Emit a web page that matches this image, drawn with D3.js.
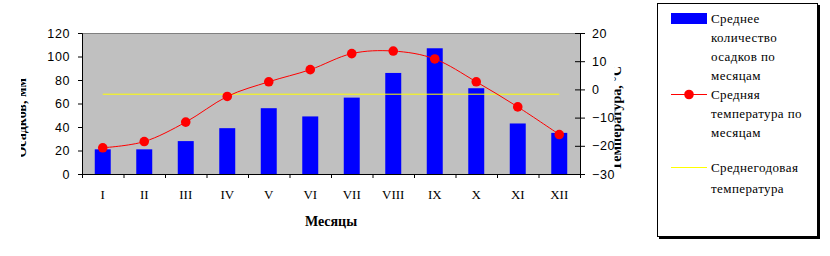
<!DOCTYPE html>
<html>
<head>
<meta charset="utf-8">
<script src="https://cdn.jsdelivr.net/npm/d3@7"></script>
<style>
  body { margin: 0; background: #fff; }
  svg { display: block; }
</style>
</head>
<body>
<div id="chart"></div>
<script>
// months and values
const months = ['I', 'II', 'III', 'IV', 'V', 'VI', 'VII', 'VIII', 'IX', 'X', 'XI', 'XII']
const precip = [21, 21, 28, 39, 56, 49, 65, 86, 107, 73, 43, 35]
const temps = [-20.7, -18.5, -11.6, -2.5, 2.7, 7, 12.7, 13.6, 10.8, 2.7, -6.2, -16]
const yearTemp = -1.7
const leftTicks = [0, 20, 40, 60, 80, 100, 120]
const rightTicks = [-30, -20, -10, 0, 10, 20]

const w = 830
const h = 256
const plot = { left: 82, right: 580, top: 33, bottom: 174 }

const svg = d3.select('#chart')
    .append('svg')
    .attr('width', w)
    .attr('height', h)

// scales
const xScale = d3.scaleBand()
    .domain(months)
    .range([plot.left, plot.right])
const cx = m => xScale(m) + xScale.bandwidth() / 2

const yLeft = d3.scaleLinear()
    .domain([0, 120])
    .range([plot.bottom, plot.top])

const yRight = d3.scaleLinear()
    .domain([-30, 20])
    .range([plot.bottom, plot.top])

// plot background
svg.append('rect')
    .attr('x', plot.left)
    .attr('y', plot.top)
    .attr('width', plot.right - plot.left)
    .attr('height', plot.bottom - plot.top)
    .attr('fill', '#c0c0c0')

svg.append('line')
    .attr('x1', plot.left).attr('x2', plot.right)
    .attr('y1', plot.top + 0.5).attr('y2', plot.top + 0.5)
    .attr('stroke', '#808080')

// bars
const barW = xScale.bandwidth() * 0.385
svg.selectAll('rect.bar')
    .data(precip)
    .enter()
    .append('rect')
    .attr('class', 'bar')
    .attr('x', (d, i) => cx(months[i]) - barW / 2)
    .attr('y', d => yLeft(d))
    .attr('width', barW)
    .attr('height', d => plot.bottom - yLeft(d))
    .attr('fill', '#0000ff')

// yearly mean line
svg.append('line')
    .attr('x1', cx(months[0]))
    .attr('x2', cx(months[months.length - 1]))
    .attr('y1', yRight(yearTemp))
    .attr('y2', yRight(yearTemp))
    .attr('stroke', '#ffff00')
    .attr('stroke-width', 1)

// temperature line
const line = d3.line()
    .x((d, i) => cx(months[i]))
    .y(d => yRight(d))
    .curve(d3.curveCatmullRom.alpha(0))

svg.append('path')
    .datum(temps)
    .attr('d', line)
    .attr('fill', 'none')
    .attr('stroke', '#ff0000')
    .attr('stroke-width', 1)

svg.selectAll('circle.pt')
    .data(temps)
    .enter()
    .append('circle')
    .attr('class', 'pt')
    .attr('cx', (d, i) => cx(months[i]))
    .attr('cy', d => yRight(d))
    .attr('r', 4.8)
    .attr('fill', '#ff0000')

// axes
const xAxis = d3.axisBottom(xScale).tickSize(0).tickPadding(0).tickFormat('')
const gx = svg.append('g')
    .attr('transform', 'translate(0,' + plot.bottom + ')')
    .call(xAxis)
gx.select('.domain').attr('stroke', '#000')
// tick marks at band edges
gx.selectAll('line.edge')
    .data(months.concat(['end']))
    .enter()
    .append('line')
    .attr('x1', (d, i) => i < months.length ? xScale(d) + 0.5 : plot.right + 0.5)
    .attr('x2', (d, i) => i < months.length ? xScale(d) + 0.5 : plot.right + 0.5)
    .attr('y1', 0)
    .attr('y2', 4)
    .attr('stroke', '#000')

svg.selectAll('text.month')
    .data(months)
    .enter()
    .append('text')
    .attr('class', 'month')
    .attr('x', d => cx(d))
    .attr('y', 199)
    .attr('text-anchor', 'middle')
    .attr('font-family', 'Liberation Serif, Times New Roman, serif')
    .attr('font-size', 13)
    .text(d => d)

const yAxisL = d3.axisLeft(yLeft).tickValues(leftTicks).tickSize(4).tickPadding(8)
const gl = svg.append('g')
    .attr('transform', 'translate(' + plot.left + ',0)')
    .call(yAxisL)
gl.selectAll('path, line').attr('stroke', '#000')
gl.selectAll('text')
    .attr('font-family', 'Liberation Sans, Arial, sans-serif')
    .attr('font-size', 12.5)
    .attr('letter-spacing', 0.6)
    .attr('fill', '#000')

const yAxisR = d3.axisRight(yRight).tickValues(rightTicks).tickSize(5).tickPadding(7)
const gr = svg.append('g')
    .attr('transform', 'translate(' + plot.right + ',0)')
    .call(yAxisR)
gr.selectAll('path, line').attr('stroke', '#000')
gr.selectAll('.tick line').attr('x1', -5)
gr.selectAll('text')
    .attr('font-family', 'Liberation Sans, Arial, sans-serif')
    .attr('font-size', 12.5)
    .attr('letter-spacing', 0.6)
    .attr('fill', '#000')

// axis titles (partly clipped, as in the original)
const defs = svg.append('defs')
defs.append('clipPath').attr('id', 'clipL')
    .append('rect').attr('x', 21).attr('y', 0).attr('width', 30).attr('height', h)
defs.append('clipPath').attr('id', 'clipR')
    .append('rect').attr('x', 614.5).attr('y', 0).attr('width', 30).attr('height', h)

svg.append('g').attr('clip-path', 'url(#clipL)')
    .append('text')
    .attr('transform', 'translate(25.5,78) rotate(-90)')
    .attr('text-anchor', 'end')
    .attr('font-family', 'Liberation Serif, Times New Roman, serif')
    .attr('font-weight', 'bold')
    .attr('font-size', 14)
    .text('Осадков, мм')

svg.append('g').attr('clip-path', 'url(#clipR)')
    .append('text')
    .attr('transform', 'translate(621,66) rotate(-90)')
    .attr('text-anchor', 'end')
    .attr('font-family', 'Liberation Serif, Times New Roman, serif')
    .attr('font-weight', 'bold')
    .attr('font-size', 14)
    .text('Температура, °С')

svg.append('text')
    .attr('x', (plot.left + plot.right) / 2)
    .attr('y', 226)
    .attr('text-anchor', 'middle')
    .attr('font-family', 'Liberation Serif, Times New Roman, serif')
    .attr('font-weight', 'bold')
    .attr('font-size', 14)
    .text('Месяцы')

// legend
const lg = svg.append('g')
lg.append('rect')
    .attr('x', 657.5).attr('y', 3.5)
    .attr('width', 160).attr('height', 233)
    .attr('fill', '#fff')
    .attr('stroke', '#000')
lg.append('path')
    .attr('d', 'M819,5V238H659')
    .attr('fill', 'none')
    .attr('stroke', '#000')
    .attr('stroke-width', 2)

const legendFont = sel => sel
    .attr('font-family', 'Liberation Serif, Times New Roman, serif')
    .attr('font-size', 13)
    .attr('letter-spacing', 0.4)

lg.append('rect')
    .attr('x', 671).attr('y', 13)
    .attr('width', 36).attr('height', 11)
    .attr('fill', '#0000ff')

const legendItems = [
    { lines: ['Среднее', 'количество', 'осадков по', 'месяцам'], y: 18, step: 19 },
    { lines: ['Средняя', 'температура по', 'месяцам'], y: 94, step: 19 },
    { lines: ['Среднегодовая', 'температура'], y: 167, step: 21 }
]
legendItems.forEach(item => {
    lg.selectAll(null)
        .data(item.lines)
        .enter()
        .append('text')
        .attr('x', 711)
        .attr('y', (d, i) => item.y + i * item.step)
        .attr('dy', '0.35em')
        .call(legendFont)
        .text(d => d)
})

lg.append('line')
    .attr('x1', 671).attr('x2', 707)
    .attr('y1', 94.5).attr('y2', 94.5)
    .attr('stroke', '#ff0000')
lg.append('circle')
    .attr('cx', 689).attr('cy', 94.5).attr('r', 4.8)
    .attr('fill', '#ff0000')
lg.append('line')
    .attr('x1', 671).attr('x2', 707)
    .attr('y1', 167.5).attr('y2', 167.5)
    .attr('stroke', '#ffff00')
</script>
</body>
</html>
